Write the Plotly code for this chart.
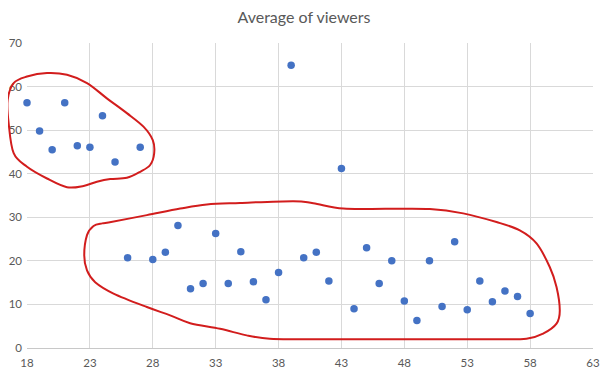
import plotly.graph_objects as go

# Data
ages = [18, 19, 20, 21, 22, 23, 24, 25, 27,
        26, 28, 29, 30, 31, 32, 33, 34, 35, 36, 37, 38, 39, 40, 41, 42, 43,
        44, 45, 46, 47, 48, 49, 50, 51, 52, 53, 54, 55, 56, 57, 58]
viewers = [56.3, 49.8, 45.5, 56.3, 46.4, 46.1, 53.3, 42.7, 46.1,
           20.7, 20.3, 22.0, 28.1, 13.6, 14.8, 26.3, 14.8, 22.1, 15.2, 11.1, 17.3, 64.9, 20.7, 22.0, 15.4, 41.2,
           9.0, 23.0, 14.8, 20.0, 10.8, 6.3, 20.0, 9.5, 24.4, 8.8, 15.4, 10.6, 13.1, 11.8, 7.9]

x_ticks = [18, 23, 28, 33, 38, 43, 48, 53, 58, 63]
y_ticks = [0, 10, 20, 30, 40, 50, 60, 70]
X_RANGE = (18, 63)
Y_RANGE = (0, 70)

# Hand-drawn red outlines (annotation, in data units)
left_loop = [(23.56, 38.15), (24.62, 38.77), (25.94, 39.07), (27.0, 40.45), (27.79, 42.0),
             (28.11, 44.68), (28.0, 47.7), (27.26, 50.8), (25.94, 53.9), (24.35, 57.3),
             (22.77, 60.8), (21.18, 62.7), (19.59, 63.1), (18.0, 62.3), (16.94, 60.8),
             (16.46, 56.9), (16.54, 51.6), (16.94, 44.7), (18.0, 41.6), (19.59, 38.9),
             (21.18, 36.9), (22.5, 37.2)]
big_loop = [(24.48, 28.8), (27.53, 30.5), (30.18, 32.0), (32.3, 32.95), (34.94, 33.3),
            (39.18, 33.7), (40.76, 33.2), (43.15, 32.0), (46.6, 31.95), (50.03, 31.9), (52.68, 30.9),
            (55.33, 28.9), (57.18, 27.0), (58.51, 24.0), (59.56, 18.6), (60.1, 14.0),
            (60.36, 8.6), (60.1, 5.6), (59.03, 3.3), (57.71, 2.1), (55.0, 2.0), (50.0, 2.0),
            (45.0, 2.0), (40.0, 2.0), (37.3, 2.1),
            (35.47, 2.9), (33.35, 4.4), (30.97, 5.7), (29.38, 7.5), (27.53, 9.4),
            (24.88, 12.5), (23.42, 15.1), (22.77, 17.8), (22.55, 21.3), (22.77, 25.9),
            (23.29, 28.0), (23.98, 28.6)]


def to_paper(p):
    return ((p[0] - X_RANGE[0]) / (X_RANGE[1] - X_RANGE[0]),
            (p[1] - Y_RANGE[0]) / (Y_RANGE[1] - Y_RANGE[0]))


def smooth_closed_path(pts):
    P = [to_paper(p) for p in pts]
    n = len(P)
    d = f"M {P[0][0]:.5f},{P[0][1]:.5f}"
    for i in range(n):
        p0, p1, p2, p3 = P[i - 1], P[i], P[(i + 1) % n], P[(i + 2) % n]
        c1 = (p1[0] + (p2[0] - p0[0]) / 6, p1[1] + (p2[1] - p0[1]) / 6)
        c2 = (p2[0] - (p3[0] - p1[0]) / 6, p2[1] - (p3[1] - p1[1]) / 6)
        d += f" C {c1[0]:.5f},{c1[1]:.5f} {c2[0]:.5f},{c2[1]:.5f} {p2[0]:.5f},{p2[1]:.5f}"
    return d + " Z"


fig = go.Figure()
fig.add_trace(go.Scatter(
    x=ages, y=viewers, mode="markers",
    marker=dict(color="#4472C4", size=7.5, line=dict(width=0)),
    cliponaxis=False, hoverinfo="x+y",
))

red = "#d21d1d"
for loop in (left_loop, big_loop):
    fig.add_shape(type="path", xref="paper", yref="paper",
                  path=smooth_closed_path(loop),
                  line=dict(color=red, width=2), layer="above")

font = "Lato, 'Open Sans', sans-serif"
fig.update_layout(
    width=601, height=368,
    margin=dict(l=19, r=16, t=35, b=28, autoexpand=False),
    paper_bgcolor="white", plot_bgcolor="white",
    showlegend=False,
    title=dict(text="Average of viewers", x=0.4925, xanchor="center", y=0.975, yanchor="middle",
               font=dict(family=font, size=16, color="#595959")),
    font=dict(family=font, size=11.5, color="#595959"),
    xaxis=dict(range=list(X_RANGE), tickvals=x_ticks, ticktext=[str(v) for v in x_ticks],
               automargin=False,
               showgrid=True, gridcolor="#d9d9d9", gridwidth=1, zeroline=False,
               showline=True, linecolor="#c8c8c8", linewidth=1, ticks="", ticklen=0,
               ticklabelstandoff=4),
    yaxis=dict(range=list(Y_RANGE), tickvals=y_ticks, ticktext=[str(v) for v in y_ticks],
               automargin=False,
               showgrid=True, gridcolor="#d9d9d9", gridwidth=1, zeroline=False,
               showline=False, ticks="", ticklabelstandoff=4),
)

fig.write_html("out.html")
